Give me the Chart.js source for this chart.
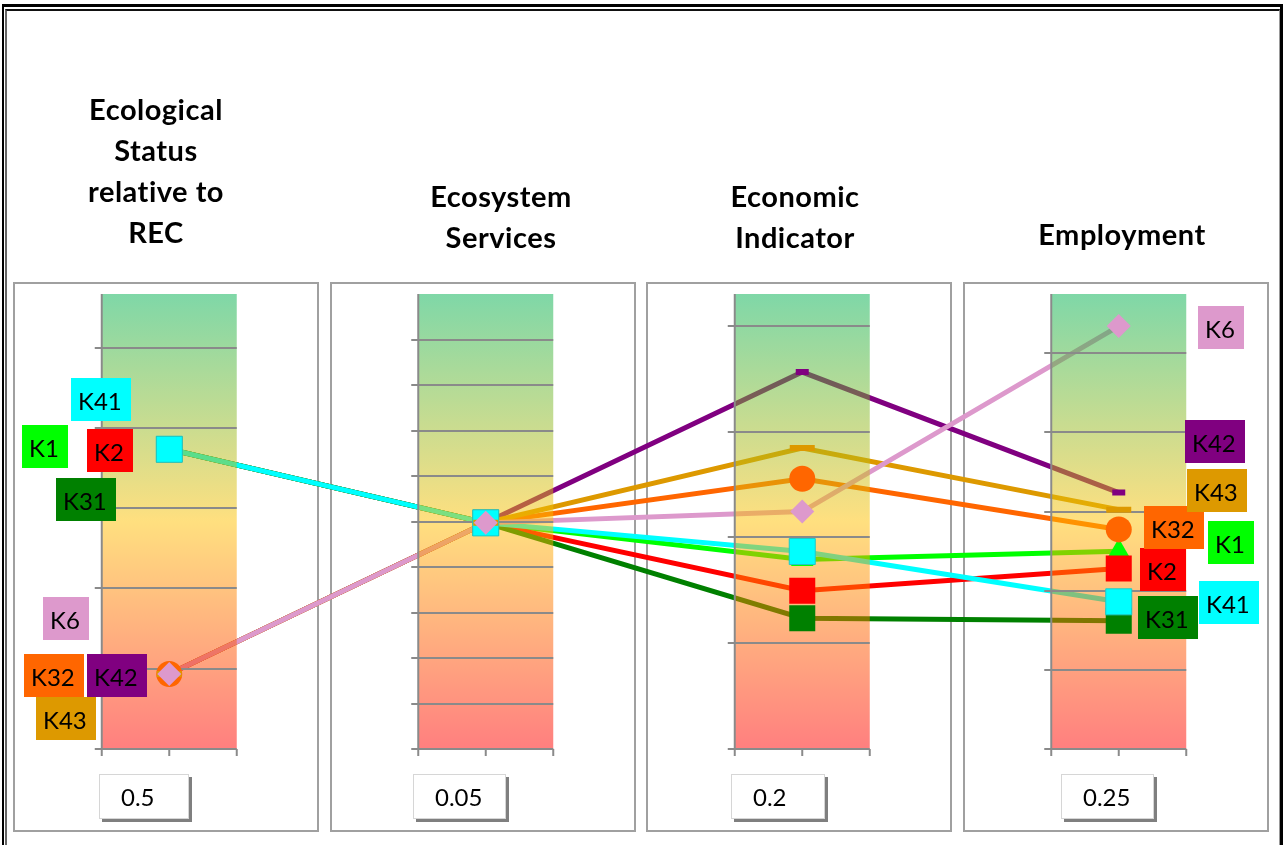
<!DOCTYPE html>
<html>
<head>
<meta charset="utf-8">
<title>Criteria scores</title>
<script src="https://cdn.jsdelivr.net/npm/chart.js@4.4.1/dist/chart.umd.min.js"></script>
<style>
  body { margin: 0; background: #fff; font-family: Lato, sans-serif; }
  #wrap { position: relative; width: 1285px; height: 845px; overflow: hidden; }
  #chart { position: absolute; left: 0; top: 0; }
  .frame { position: absolute; left: 2px; top: 4px; width: 1276px; height: 900px; border-style: solid; border-color: #000; border-width: 3px 3px 0 2px; }
  .frame2 { position: absolute; left: 5px; top: 9px; width: 1272px; height: 900px; border-style: solid; border-width: 2px 1px 0 2px; border-color: #111 #999 #000 #666; }
  .title { position: absolute; width: 300px; text-align: center; font-weight: 700; font-size: 29px; letter-spacing: 0.5px; line-height: 41px; color: #000; }
  .weight { position: absolute; top: 774px; height: 45px; line-height: 44px; background: #fff; border: 1px solid #d6d6d6; box-shadow: 3px 3px 0 #7f7f7f; font-size: 24px; padding-left: 21px; box-sizing: border-box; color: #000; }
</style>
</head>
<body>
<div id="wrap">
  <canvas id="chart" width="1285" height="845"></canvas>
  <div class="frame"></div>
  <div class="frame2"></div>
</div>
<script>
// criteria (one panel each), weights shown under the panels
const titleLines = [['Ecological', 'Status', 'relative to', 'REC'], ['Ecosystem', 'Services'], ['Economic', 'Indicator'], ['Employment']];
const criteria = titleLines.map(l => l.join(' '));
const weights = [0.5, 0.05, 0.2, 0.25];

// each panel has its own value axis
const axisMin = [0, 0, 0, 0];
const axisMax = [1.7, 1, 2.15, 1.15];
const axisStep = [0.3, 0.1, 0.5, 0.2];

// scores per alternative, one value per criterion
const seriesNames = ['K1', 'K2', 'K31', 'K32', 'K41', 'K42', 'K43', 'K6'];
const k1  = [1.12, 0.497, 0.895, 0.50];
const k2  = [1.12, 0.497, 0.748, 0.456];
const k31 = [1.12, 0.497, 0.618, 0.324];
const k32 = [0.28, 0.497, 1.277, 0.555];
const k41 = [1.12, 0.497, 0.933, 0.372];
const k42 = [0.28, 0.497, 1.781, 0.648];
const k43 = [0.28, 0.497, 1.422, 0.605];
const k6  = [0.28, 0.497, 1.122, 1.069];
const seriesValues = [k1, k2, k31, k32, k41, k42, k43, k6];

// styles
const seriesColors = ['#00ff00', '#ff0000', '#008000', '#ff6600', '#00ffff', '#800080', '#dd9900', '#dd99cc'];
const markerStyle = ['triangle', 'rect', 'rect', 'circle', 'rect', 'line', 'line', 'rectRot'];
const markerRadius = [13, 18.4, 18.4, 13, 18.4, 6.5, 12.5, 12];
const markerBorder = [0, 0, 0, 0, 1, 6, 6, 0];

// label boxes: centre offset from first point / last point
const labelOffsets = {
  K1:  [[-124, -3], [112, -9]],
  K2:  [[-59, 1], [44, 1]],
  K31: [[-83, 50], [49, -3]],
  K32: [[-115, 1], [55, -2]],
  K41: [[-68, -50], [110, 1]],
  K42: [[-52, 1], [96, -51]],
  K43: [[-103, 44], [98, -19]],
  K6:  [[-103, -56], [102, 1]]
};
const titleCentres = [156, 501, 795, 1122];
const titleTops = [88, 175, 175, 213];
const weightBox = [[99, 90], [413, 93], [731, 94], [1061, 93]];

const PLOT_HALF = 67.5;

// titles and weight boxes
const wrap = document.getElementById('wrap');
titleLines.forEach((lines, i) => {
  const d = document.createElement('div');
  d.className = 'title';
  d.style.left = (titleCentres[i] - 150) + 'px';
  d.style.top = titleTops[i] + 'px';
  d.innerHTML = lines.join('<br>');
  wrap.appendChild(d);
});
weights.forEach((w, i) => {
  const d = document.createElement('div');
  d.className = 'weight';
  d.style.left = weightBox[i][0] + 'px';
  d.style.width = weightBox[i][1] + 'px';
  d.textContent = String(w);
  wrap.appendChild(d);
});

function normalise(values) {
  return values.map((v, p) => (v - axisMin[p]) / (axisMax[p] - axisMin[p]));
}

const datasets = [];
seriesNames.forEach((name, s) => {
  datasets.push({
    kind: 'line', label: name, data: normalise(seriesValues[s]), yAxisID: 'yn',
    borderColor: seriesColors[s], borderWidth: 5, pointRadius: 0, pointHoverRadius: 0,
    tension: 0, fill: false, order: 100 + (8 - s)
  });
});
seriesNames.forEach((name, s) => {
  datasets.push({
    kind: 'marker', label: name, data: normalise(seriesValues[s]), yAxisID: 'yn',
    showLine: false, pointStyle: markerStyle[s], pointRadius: markerRadius[s], pointHoverRadius: markerRadius[s],
    pointBackgroundColor: seriesColors[s],
    pointBorderColor: s === 4 ? '#20c8c8' : seriesColors[s],
    pointBorderWidth: markerBorder[s], order: 8 - s
  });
});

const scales = {
  x: { type: 'category', labels: criteria, offset: true, display: false },
  yn: { type: 'linear', axis: 'y', min: 0, max: 1, display: false }
};
criteria.forEach((c, i) => {
  scales['y' + i] = {
    type: 'linear', axis: 'y', display: false, min: axisMin[i], max: axisMax[i],
    ticks: { stepSize: axisStep[i], includeBounds: false }
  };
});

function drawPlotAreas(chart) {
  const ctx = chart.ctx, area = chart.chartArea, xs = chart.scales.x;
  ctx.save();
  criteria.forEach((c, i) => {
    const cx = xs.getPixelForValue(i);
    const l = cx - PLOT_HALF, r = cx + PLOT_HALF;
    const g = ctx.createLinearGradient(0, area.top, 0, area.bottom);
    g.addColorStop(0, 'rgba(0,176,80,0.5)');
    g.addColorStop(0.5, 'rgba(255,192,0,0.5)');
    g.addColorStop(1, 'rgba(255,0,0,0.5)');
    ctx.fillStyle = g;
    ctx.fillRect(l, area.top, r - l, area.bottom - area.top);

    const ys = chart.scales['y' + i];
    ctx.strokeStyle = '#8a8a8a';
    ctx.lineWidth = 2;
    ctx.beginPath();
    ys.ticks.forEach(t => {
      if (t.value >= ys.max - 1e-9) return;
      const y = Math.round(ys.getPixelForValue(t.value));
      ctx.moveTo(l - 7, y);
      ctx.lineTo(r, y);
    });
    ctx.moveTo(l, area.top);
    ctx.lineTo(l, area.bottom);
    [l, cx, r].forEach(px => {
      ctx.moveTo(px, area.bottom);
      ctx.lineTo(px, area.bottom + 7);
    });
    ctx.stroke();
  });
  ctx.restore();
}

let areasDrawn = false;
const panelPlugin = {
  id: 'panels',
  beforeDraw(chart) {
    const ctx = chart.ctx, xs = chart.scales.x;
    ctx.save();
    ctx.fillStyle = '#fff';
    ctx.fillRect(0, 0, chart.width, chart.height);
    ctx.strokeStyle = '#a0a0a0';
    ctx.lineWidth = 2;
    criteria.forEach((c, i) => {
      const cx = xs.getPixelForValue(i);
      ctx.strokeRect(Math.round(cx) - 155, 283, 304, 548);
    });
    ctx.restore();
  },
  beforeDatasetsDraw() { areasDrawn = false; },
  beforeDatasetDraw(chart, args) {
    if (areasDrawn || chart.data.datasets[args.index].kind !== 'marker') return;
    areasDrawn = true;
    drawPlotAreas(chart);
  },
  afterDatasetsDraw(chart) {
    const ctx = chart.ctx;
    ctx.save();
    ctx.font = '24px Lato';
    seriesNames.forEach((name, s) => {
      const meta = chart.getDatasetMeta(seriesNames.length + s);
      [0, criteria.length - 1].forEach((p, k) => {
        const pt = meta.data[p];
        const off = labelOffsets[name][k];
        const w = Math.round(ctx.measureText(name).width + 16), h = 43;
        const bx = Math.round(pt.x + off[0] - w / 2), by = Math.round(pt.y + off[1] - h / 2);
        ctx.fillStyle = seriesColors[s];
        ctx.fillRect(bx, by, w, h);
        ctx.fillStyle = '#000';
        ctx.fillText(name, bx + 7, by + h - 11);
      });
    });
    ctx.restore();
  }
};

new Chart(document.getElementById('chart'), {
  type: 'line',
  data: { labels: criteria, datasets: datasets },
  options: {
    responsive: false,
    animation: false,
    events: [],
    layout: { autoPadding: false, padding: { left: 11, right: 8, top: 294, bottom: 96 } },
    scales: scales,
    plugins: { legend: { display: false }, tooltip: { enabled: false } }
  },
  plugins: [panelPlugin]
});
</script>
</body>
</html>
